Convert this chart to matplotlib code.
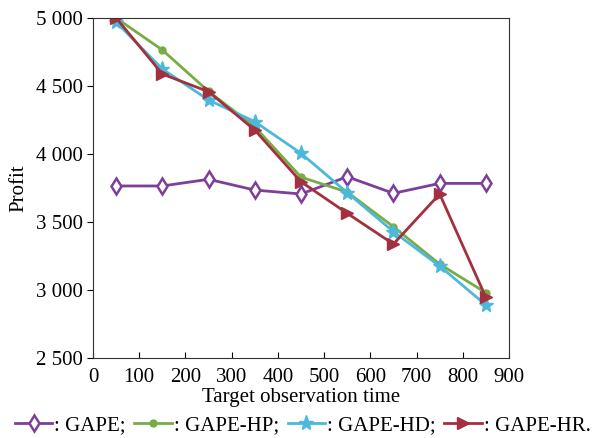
import matplotlib
matplotlib.use("Agg")
import matplotlib.pyplot as plt
from matplotlib.ticker import FuncFormatter

plt.rcParams['font.family'] = ['Liberation Serif', 'DejaVu Serif']

# target observation time
times = [50, 150, 250, 350, 450, 550, 650, 750, 850]

gape = [3765, 3765, 3814, 3735, 3706, 3833, 3711, 3784, 3784]
gape_hp = [5000, 4765, 4460, 4200, 3830, 3720, 3465, 3190, 2980]
gape_hd = [4970, 4625, 4397, 4238, 4005, 3716, 3429, 3176, 2890]
gape_hr = [5000, 4588, 4458, 4176, 3796, 3564, 3338, 3706, 2946]

labels = [': GAPE;', ': GAPE-HP;', ': GAPE-HD;', ': GAPE-HR.']

fig = plt.figure(figsize=(6.02, 4.38), dpi=100)
ax = fig.add_axes([0.1545, 0.1826, 0.691, 0.7763])

ax.plot(times, gape, color='#7d3f98', lw=2, marker='d', ms=8,
        mfc='white', mec='#7d3f98', mew=1.8, label=labels[0])
ax.plot(times, gape_hp, color='#77ad45', lw=2, marker='o', ms=5,
        label=labels[1])
ax.plot(times, gape_hd, color='#4cb9da', lw=2, marker='*', ms=11,
        label=labels[2])
ax.plot(times, gape_hr, color='#a3303e', lw=2, marker='>', ms=8,
        label=labels[3])

ax.set_xlim(0, 900)
ax.set_ylim(2500, 5000)
ax.set_xticks(range(0, 901, 100))
ax.set_yticks(range(2500, 5001, 500))
ax.yaxis.set_major_formatter(FuncFormatter(lambda v, p: f'{int(v):,}'.replace(',', ' ')))
ax.tick_params(axis='x', direction='in', labelsize=15, length=4, pad=7)
ax.tick_params(axis='y', direction='out', labelsize=15, length=4, pad=3)
ax.set_xlabel('Target observation time', fontsize=15, labelpad=1)
ax.set_ylabel('Profit', fontsize=15, labelpad=6)
for s in ax.spines.values():
    s.set_color('#333333')

fig.legend(loc='center', bbox_to_anchor=(0.503, 0.028), ncol=4, frameon=False,
           fontsize=15, handlelength=1.8, handletextpad=0.1, columnspacing=0.4,
           borderpad=0, borderaxespad=0)

fig.savefig('out.png', dpi=100)
